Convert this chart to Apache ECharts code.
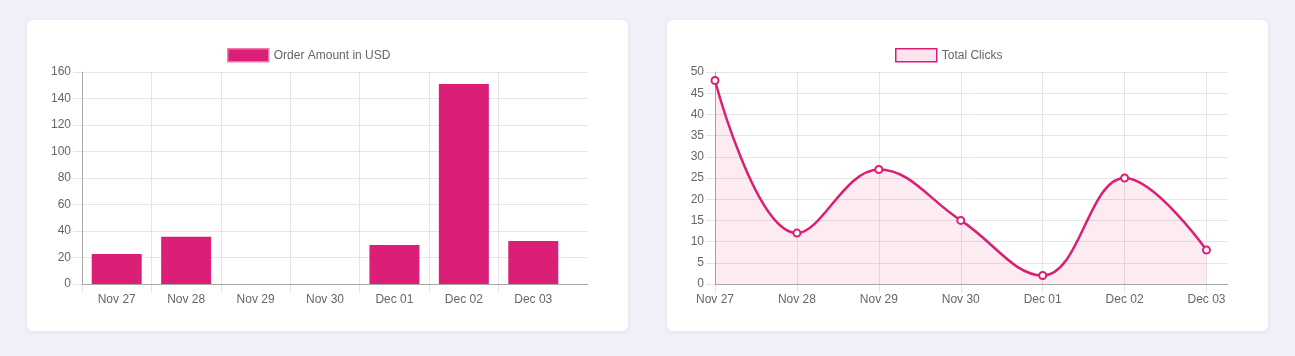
<!DOCTYPE html>
<html>
<head>
<meta charset="utf-8">
<script src="https://cdn.jsdelivr.net/npm/echarts@6/dist/echarts.min.js"></script>
<style>
html,body{margin:0;padding:0;background:#f1f0f8;width:1295px;height:356px;overflow:hidden;}
.card{position:absolute;top:20px;width:601px;height:311px;background:#fff;border-radius:6px;box-shadow:0 1px 4px rgba(0,0,0,0.07);}
#c1{left:27px;}
#c2{left:667px;}
</style>
</head>
<body>
<div class="card" id="c1"></div>
<div class="card" id="c2"></div>
<script>
const categories = ['Nov 27','Nov 28','Nov 29','Nov 30','Dec 01','Dec 02','Dec 03'];
const orderAmounts = [22.6, 35.7, 0, 0, 29.4, 151, 32.5];
const totalClicks = [48, 12, 27, 15, 2, 25, 8];
const orderTicks = { min: 0, max: 160, interval: 20 };
const clickTicks = { min: 0, max: 50, interval: 5 };

const FONT = '"Liberation Sans", Arial, sans-serif';
const TXT = '#666';
const GRIDC = '#e5e5e5';
const AXISC = '#a8a8a8';
const PINK = '#dc1f76';
const FILL = 'rgba(226,30,105,0.12)';

function makeOption(cfg) {
  const pxPerUnit = 212 / (cfg.ticks.max - cfg.ticks.min);
  const extMin = -9 / pxPerUnit;
  return {
    animation: false,
    textStyle: { fontFamily: FONT },
    legend: {
      left: cfg.legendLeft, top: 28, padding: 0,
      itemWidth: 41, itemHeight: 13, itemGap: 10,
      textStyle: { color: TXT, fontSize: 12, fontFamily: FONT },
      data: [{ name: cfg.name, icon: 'rect', itemStyle: cfg.legendItem }]
    },
    grid: [
      { left: cfg.left, right: cfg.rightA, top: 52, bottom: 47 },
      { left: cfg.left, right: cfg.rightB, top: 52, bottom: 38 }
    ],
    xAxis: [
      { gridIndex: 0, type: 'category', data: categories, show: true,
        axisLine: { show: true, lineStyle: { color: AXISC, width: 1 } },
        axisTick: { show: false }, axisLabel: { show: false }, splitLine: { show: false } },
      { gridIndex: 1, type: 'category', data: categories, boundaryGap: cfg.boundaryGap,
        axisLine: { show: false }, axisTick: { show: false },
        axisLabel: { color: TXT, fontSize: 12, fontFamily: FONT, margin: 1, interval: 0 },
        splitLine: { show: true, showMaxLine: cfg.showMaxLine, lineStyle: { color: GRIDC, width: 1 } } }
    ],
    yAxis: [
      { gridIndex: 0, type: 'value', min: cfg.ticks.min, max: cfg.ticks.max, interval: cfg.ticks.interval,
        axisLine: { show: true, lineStyle: { color: AXISC, width: 1 } },
        axisTick: { show: true, length: 9, lineStyle: { color: GRIDC } },
        axisLabel: { color: TXT, fontSize: 12, fontFamily: FONT, margin: 11 },
        splitLine: { show: true, lineStyle: { color: GRIDC, width: 1 } } },
      { gridIndex: 1, type: 'value', min: extMin, max: cfg.ticks.max, show: false,
        splitLine: { show: false } }
    ],
    series: [cfg.series]
  };
}

const c1 = echarts.init(document.getElementById('c1'), null, { renderer: 'canvas' });
c1.setOption(makeOption({
  name: 'Order Amount in USD',
  legendLeft: 200,
  legendItem: { color: PINK, borderColor: '#f07aae', borderWidth: 1.5 },
  left: 55, rightA: 40, rightB: 60,
  boundaryGap: true, showMaxLine: false,
  ticks: orderTicks,
  series: {
    name: 'Order Amount in USD', type: 'bar', xAxisIndex: 1, yAxisIndex: 1,
    data: orderAmounts, barWidth: '72%',
    itemStyle: { color: PINK, borderWidth: 0 }
  }
}));

const c2 = echarts.init(document.getElementById('c2'), null, { renderer: 'canvas' });
c2.setOption(makeOption({
  name: 'Total Clicks',
  legendLeft: 228,
  legendItem: { color: FILL, borderColor: PINK, borderWidth: 1.5 },
  left: 48, rightA: 40, rightB: 61.5,
  boundaryGap: false, showMaxLine: true,
  ticks: clickTicks,
  series: {
    name: 'Total Clicks', type: 'line', xAxisIndex: 1, yAxisIndex: 1,
    data: totalClicks, smooth: 0.4,
    symbol: 'circle', symbolSize: 7, showSymbol: true,
    lineStyle: { color: PINK, width: 2.5 },
    itemStyle: { color: '#fff', borderColor: PINK, borderWidth: 2 },
    areaStyle: { color: FILL }
  }
}));
</script>
</body>
</html>
